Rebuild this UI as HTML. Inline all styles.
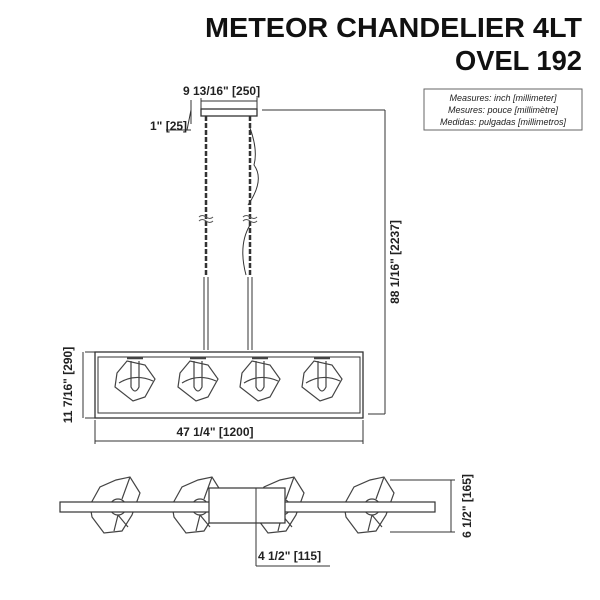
<!DOCTYPE html>
<html><head><style>
html,body{margin:0;padding:0;background:#fff;}
svg{display:block;font-family:"Liberation Sans",sans-serif;}
</style></head><body>
<svg width="600" height="600" viewBox="0 0 600 600" xmlns="http://www.w3.org/2000/svg">
<defs>
<g id="shade" fill="none" stroke="#444" stroke-width="1.2">
<path d="M-18,-4 L-8,-16 L10,-12 L20,2 L10,20 L-2,24 L-20,10 Z"/>
<path d="M-16,6 Q0,-4 18,4" />
<path d="M-4,-16 L-4,10 Q0,18 4,10 L4,-16" />
<path d="M-8,-19 L8,-19" stroke-width="2.5"/>
</g>
<g id="bshade" fill="none" stroke="#444" stroke-width="1.2">
<path d="M-28,0 L-18,-18 L-2,-25 L12,-28 L22,-12 L14,10 L4,26 L-14,28 L-26,12 Z"/>
<circle cx="0" cy="2" r="8"/>
<path d="M0,10 L-4,26 M0,10 L10,22 M4,-6 L12,-28"/>
</g>
</defs>
<text x="205" y="37" textLength="377" lengthAdjust="spacingAndGlyphs" font-size="28" font-weight="bold" fill="#111">METEOR CHANDELIER 4LT</text>
<text x="455" y="70" textLength="127" lengthAdjust="spacingAndGlyphs" font-size="28" font-weight="bold" fill="#111">OVEL 192</text>
<rect x="424" y="89" width="158" height="41" fill="none" stroke="#666" stroke-width="1"/>
<g font-size="9" font-style="italic" text-anchor="middle" fill="#222">
<text x="503" y="101">Measures: inch [millimeter]</text>
<text x="503" y="113">Mesures: pouce [millimètre]</text>
<text x="503" y="125">Medidas: pulgadas [millimetros]</text>
</g>
<g stroke="#333" stroke-width="1" fill="none">
<rect x="201" y="109" width="56" height="7" stroke-width="1.3"/>
<path d="M201,101 L257,101 M201,98 L201,109 M257,98 L257,109"/>
<path d="M191,100 L191,124 M166,130 L191,130 M187,130 L191,110"/>
<path d="M262,110 L385,110 M385,110 L385,414 M368,414 L385,414"/>
<path d="M206,116 L206,277" stroke-dasharray="5,2" stroke-width="2.5"/>
<path d="M250,116 L250,277" stroke-dasharray="5,2" stroke-width="2.5"/>
<path d="M250,128 Q258,150 254,165 Q265,180 248,205" />
<path d="M250,225 Q238,245 246,275"/>
<path d="M199,217 q3,-3 7,0 t7,0 M199,221 q3,-3 7,0 t7,0 M243,217 q3,-3 7,0 t7,0 M243,221 q3,-3 7,0 t7,0" stroke="#555"/>
<path d="M204,277 L204,350 M208,277 L208,350 M248,277 L248,350 M252,277 L252,350"/>
<rect x="95" y="352" width="268" height="66" stroke-width="1.3"/>
<rect x="98" y="357" width="262" height="56"/>
<path d="M85,352 L95,352 M85,418 L95,418 M83,352 L83,418"/>
<path d="M95,420 L95,444 M363,420 L363,444 M95,441 L363,441"/>
</g>
<use href="#shade" x="135" y="377"/>
<use href="#shade" x="198" y="377"/>
<use href="#shade" x="260" y="377"/>
<use href="#shade" x="322" y="377"/>
<text x="215" y="436" text-anchor="middle" font-size="12" font-weight="bold" fill="#222">47 1/4" [1200]</text>
<text x="183" y="95" font-size="12" font-weight="bold" fill="#222">9 13/16" [250]</text>
<text x="150" y="130" font-size="12" font-weight="bold" fill="#222">1" [25]</text>
<text transform="translate(399,262) rotate(-90)" text-anchor="middle" font-size="12" font-weight="bold" fill="#222">88 1/16" [2237]</text>
<text transform="translate(72,385) rotate(-90)" text-anchor="middle" font-size="12" font-weight="bold" fill="#222">11 7/16" [290]</text>
<use href="#bshade" x="118" y="505"/>
<use href="#bshade" x="200" y="505"/>
<use href="#bshade" x="282" y="505"/>
<use href="#bshade" x="372" y="505"/>
<g stroke="#333" stroke-width="1.2" fill="#fff">
<rect x="60" y="502" width="375" height="10"/>
<rect x="209" y="488" width="76" height="35"/>
</g>
<g stroke="#333" stroke-width="1" fill="none">
<path d="M256,488 L256,566 M256,566 L330,566"/>
<path d="M390,480 L455,480 M390,532 L455,532 M451,480 L451,532"/>
</g>
<text x="258" y="560" font-size="12" font-weight="bold" fill="#222">4 1/2" [115]</text>
<text transform="translate(471,506) rotate(-90)" text-anchor="middle" font-size="12" font-weight="bold" fill="#222">6 1/2" [165]</text>
</svg>
</body></html>
